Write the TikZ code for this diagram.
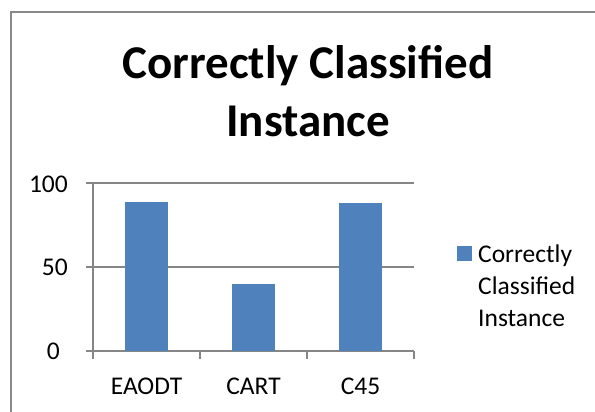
\documentclass[tikz,border=0pt]{standalone}
\usepackage{fontspec}
\setmainfont{Carlito}
\usepackage{xcolor}
\usetikzlibrary{positioning}

\definecolor{barblue}{HTML}{4F81BD}
\definecolor{gridgray}{HTML}{868686}
\definecolor{framegray}{HTML}{898989}

\begin{document}
\begin{tikzpicture}[
 x=1pt,y=-1pt,
 frame/.style={draw=framegray,line width=2pt},
 gridline/.style={draw=gridgray,line width=1.4pt},
 bar/.style={fill=barblue,draw=none},
 lab/.style={font=\fontsize{25.5}{32}\selectfont,inner sep=0pt},
 ttl/.style={font=\bfseries\fontsize{47}{58}\selectfont,inner sep=0pt},
 keybox/.style={fill=barblue,draw=none,minimum size=15pt,inner sep=0pt}
]
\useasboundingbox (0,0) rectangle (595,412);
\draw[frame] (11,420) |- (600,12);

% title
\node[ttl,anchor=base] (title) at (308,78) {Correctly Classified};
\node[ttl,anchor=base] (title2) at (308,136) {Instance};

% grid and axes
\foreach \v/\y in {0/351,50/267,100/183} {
  \draw[gridline] (86,\y) -- (414,\y);
}
\draw[gridline] (93,183) -- (93,351);
\foreach \x in {93,200,307,414} {
  \draw[gridline] (\x,351) -- (\x,359);
}
\node[lab,anchor=base east] (y100) at (68,192) {100};
\node[lab,anchor=base east] (y50) at (68,275) {50};
\node[lab,anchor=base east] (y0) at (60,359) {0};

% bars
\foreach \i/\val/\name in {1/88.7/EAODT,2/40/CART,3/88/C45} {
  \pgfmathsetmacro{\cx}{93+107*(\i-0.5)}
  \fill[bar] (\cx-21.5,351) rectangle (\cx+21.5,351-1.68*\val);
  \node[lab,anchor=base] (cat-\i) at (\cx,394) {\name};
}

% legend
\node[keybox] (key) at (464.5,253.5) {};
\node[lab,align=left,anchor=north west] (legtxt) at (478,245) {Correctly\\Classified\\Instance};
\end{tikzpicture}
\end{document}
